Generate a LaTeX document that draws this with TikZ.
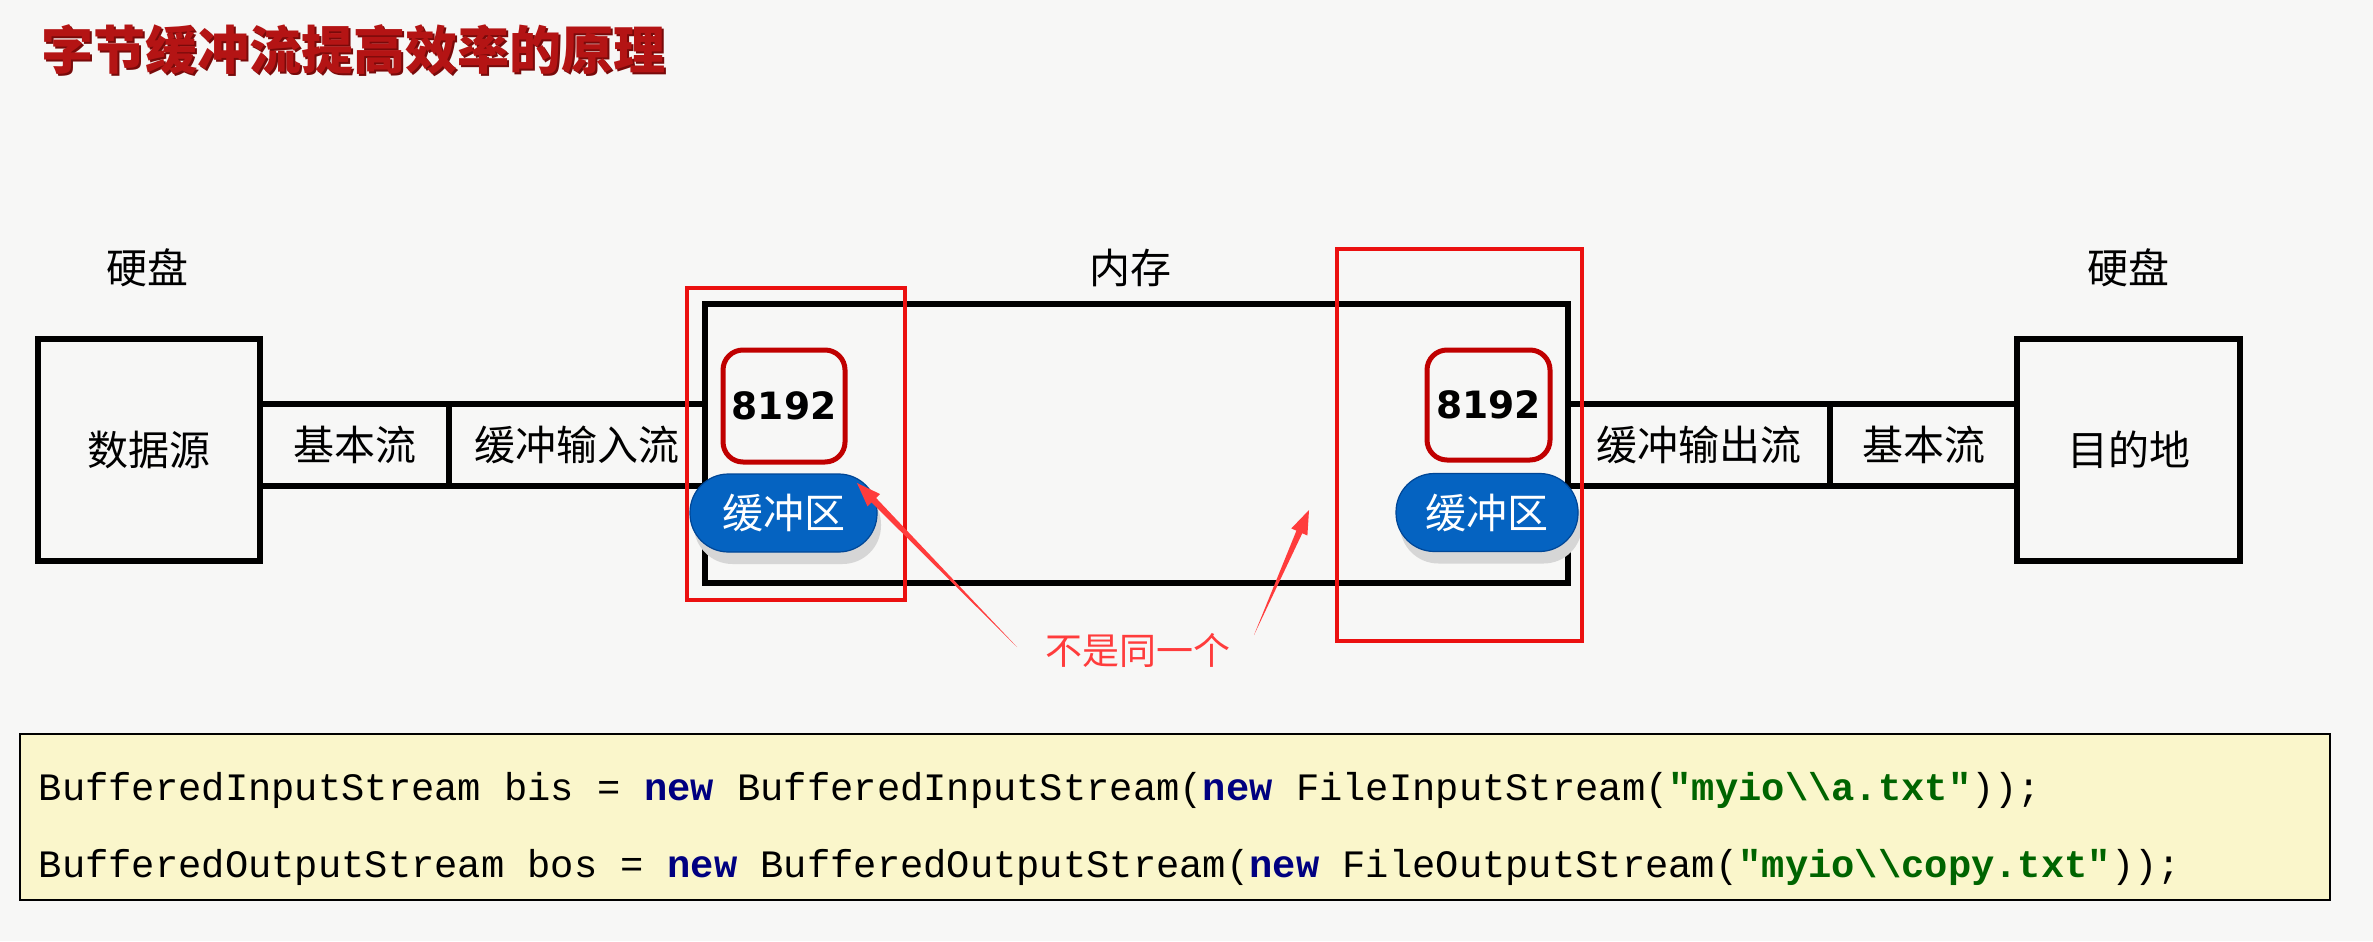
\documentclass[tikz,border=0pt]{standalone}
\usepackage{fontspec}
\newfontfamily\cjk{Noto Sans CJK SC}
\newfontfamily\codefont{Liberation Mono}
\newfontfamily\numfont{DejaVu Sans}
\usetikzlibrary{calc}
\definecolor{bg}{RGB}{247,247,246}
\definecolor{framered}{RGB}{235,16,16}
\definecolor{sizered}{RGB}{192,0,0}
\definecolor{pillblue}{RGB}{5,99,193}
\definecolor{pilledge}{RGB}{0,70,150}
\definecolor{shadowgray}{RGB}{214,214,214}
\definecolor{arrowred}{RGB}{255,60,60}
\definecolor{titlered}{RGB}{180,20,20}
\definecolor{titleshadow}{RGB}{120,10,10}
\definecolor{kwblue}{RGB}{0,0,128}
\definecolor{strgreen}{RGB}{0,100,0}
\definecolor{codeyellow}{RGB}{250,246,203}
\newcommand\kw[1]{{\bfseries\color{kwblue}#1}}
\newcommand\strlit[1]{{\bfseries\color{strgreen}#1}}
\newcommand\tarrow[2]{%
  \coordinate (#1-h) at ($(#2)!6pt!(#1)$);
  \fill[arrowred] (#1) -- ($(#1-h)!0.8pt!90:(#2)$) -- ($(#1-h)!2.2pt!90:(#2)$) -- (#2)
     -- ($(#1-h)!2.2pt!-90:(#2)$) -- ($(#1-h)!0.8pt!-90:(#2)$) -- cycle;}
\tikzset{
 blackbox/.style={draw=black, line width=1.4pt, inner sep=0pt, font=\cjk\fontsize{10.25}{12}\selectfont},
 redframe/.style={draw=framered, line width=1pt, inner sep=0pt},
 sizebox/.style={draw=sizered, line width=1.25pt, rounded corners=5pt, fill=bg, inner sep=0pt, font=\numfont\bfseries\fontsize{9.4}{10}\selectfont},
 pillnode/.style={fill=pillblue, draw=pilledge, line width=0.3pt, rounded corners=9.6pt, inner sep=0pt, minimum height=19.5pt, text=white, font=\cjk\fontsize{10.25}{12}\selectfont},
 pillshadow/.style={fill=shadowgray, rounded corners=9.6pt, inner sep=0pt, minimum height=19.5pt},
 lbl/.style={font=\cjk\fontsize{10.25}{12}\selectfont, inner sep=0pt},
 codetext/.style={font=\codefont\fontsize{9.7}{11}\selectfont, inner sep=0pt, anchor=base west},
}
\begin{document}
\begin{tikzpicture}[x=0.25pt,y=-0.25pt]
\fill[bg] (0,0) rectangle (2373,941);
\useasboundingbox (0,0) rectangle (2373,941);

% title
\node[inner sep=0pt, anchor=west, text=titleshadow, font=\cjk\bfseries\fontsize{13}{15}\selectfont] (titlesh) at (42.5,51.5) {字节缓冲流提高效率的原理};
\node[inner sep=0pt, anchor=west, text=titlered, font=\cjk\bfseries\fontsize{13}{15}\selectfont] (title) at (41,50) {字节缓冲流提高效率的原理};

% labels
\node[lbl] (disk1) at (147,268) {硬盘};
\node[lbl] (memlbl) at (1130,268) {内存};
\node[lbl] (disk2) at (2128,268) {硬盘};

% black boxes
\node[blackbox, minimum width=55.5pt, minimum height=55.5pt] (src) at (149,450) {数据源};
\node[blackbox, minimum width=47.25pt, minimum height=20.5pt] (basic1) at (354.5,445) {基本流};
\node[blackbox, minimum width=64pt, minimum height=20.5pt] (bufin) at (577,445) {缓冲输入流};
\node[blackbox, minimum width=215.75pt, minimum height=69.75pt] (mem) at (1136.5,443.5) {};
\node[blackbox, minimum width=65.5pt, minimum height=20.5pt] (bufout) at (1699,445) {缓冲输出流};
\node[blackbox, minimum width=46.75pt, minimum height=20.5pt] (basic2) at (1923.5,445) {基本流};
\node[blackbox, minimum width=55.75pt, minimum height=55.5pt] (dst) at (2128.5,450) {目的地};

% 8192 boxes
\node[sizebox, minimum width=30.5pt, minimum height=28pt] (size1) at (784,406) {8192};
\node[sizebox, minimum width=30.75pt, minimum height=27.5pt] (size2) at (1488.5,405) {8192};

% pills
\node[pillshadow, minimum width=46.75pt] (sh1) at (787.5,525) {};
\node[pillnode, minimum width=46.75pt] (buf1) at (783.5,513) {缓冲区};
\node[pillshadow, minimum width=45.5pt] (sh2) at (1491,524.5) {};
\node[pillnode, minimum width=45.5pt] (buf2) at (1487,512.5) {缓冲区};

% red frames
\node[redframe, minimum width=54.5pt, minimum height=78pt] (frame1) at (796,444) {};
\node[redframe, minimum width=61.25pt, minimum height=98pt] (frame2) at (1459.5,445) {};

% note and arrows
\node[inner sep=0pt, text=arrowred, font=\cjk\fontsize{9.25}{11}\selectfont] (note) at (1138,650) {不是同一个};
\coordinate (t1) at (1017,647);
\coordinate (p1) at (857,483);
\coordinate (t2) at (1254,635);
\coordinate (p2) at (1309,510);
\tarrow{t1}{p1}
\tarrow{t2}{p2}

% code box
\node[draw=black, line width=0.7pt, fill=codeyellow, minimum width=577.5pt, minimum height=41.5pt, inner sep=0pt] (code) at (1175,817) {};
\node[codetext] (line1) at (38,800) {BufferedInputStream bis = \kw{new} BufferedInputStream(\kw{new} FileInputStream(\strlit{"myio\textbackslash\textbackslash a.txt"}));};
\node[codetext] (line2) at (38,877) {BufferedOutputStream bos = \kw{new} BufferedOutputStream(\kw{new} FileOutputStream(\strlit{"myio\textbackslash\textbackslash copy.txt"}));};
\end{tikzpicture}
\end{document}
